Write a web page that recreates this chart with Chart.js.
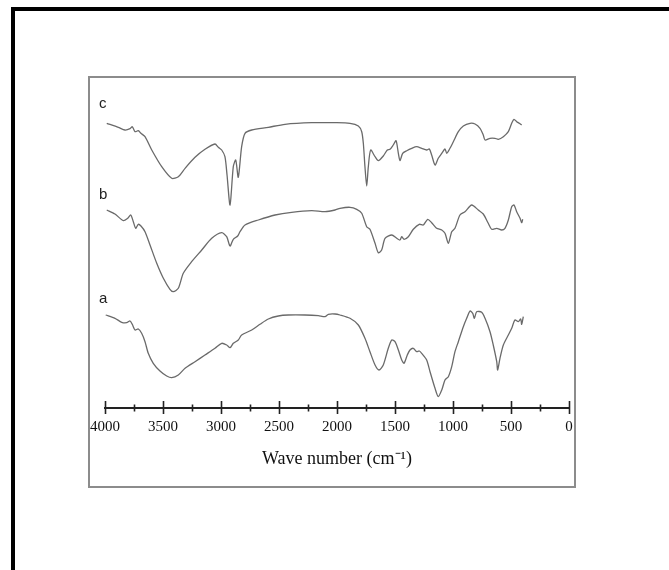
<!DOCTYPE html>
<html>
<head>
<meta charset="utf-8">
<script src="https://cdn.jsdelivr.net/npm/chart.js@4.4.1/dist/chart.umd.min.js"></script>
<style>
  html, body { margin: 0; padding: 0; background: #fff; }
  body { width: 669px; height: 570px; position: relative; overflow: hidden; }
  #frame { position: absolute; left: 11px; top: 7px; width: 700px; height: 600px;
           border-left: 4px solid #000; border-top: 4px solid #000; }
  #box { position: absolute; left: 88px; top: 76px; width: 484px; height: 408px;
         border: 2px solid #8c8c8c; }
  #wrap { position: absolute; left: 0; top: 0; width: 669px; height: 570px; }
</style>
</head>
<body>
<div id="frame"></div>
<div id="box"></div>
<div id="wrap"><canvas id="chart" width="669" height="570"></canvas></div>
<script>
// Wavenumbers (cm^-1) and relative transmittance (offset, a.u.)
const waveC = [3985,3885,3828,3784,3765,3741,3713,3690,3655,3597,3511,3425,3368,3310,3224,3138,3052,3023,2994,2966,2948,2922,2894,2873,2851,2822,2793,2735,2592,2448,2218,2017,1888,1816,1787,1773,1759,1744,1730,1710,1672,1644,1601,1566,1543,1515,1491,1471,1457,1434,1399,1356,1313,1270,1227,1204,1184,1155,1127,1097,1069,1054,1026,997,954,911,853,810,767,739,724,681,638,609,566,523,494,474,451,428,408];
const transC = [284.7,280.7,278,279.3,281.3,276.3,277.3,274.7,271.3,258,241.3,229.7,231.3,239.7,250.7,258.7,264,260.7,258,251.3,233,203,241.3,248,230.7,261.3,274.7,278,280.7,283.7,285.3,285.3,284.7,282,276.3,264.7,241.3,222,241.3,258,251.3,247.3,252,258,258.7,263,267.3,254.7,247.3,254.7,257.3,259.7,261.3,259.7,258,259,253,243,249.7,254.7,259,254.7,259.7,266.3,276.3,282,284.7,284,279.7,273,268,269.7,269.7,268.7,271.3,276.3,284.7,288.7,286.3,284.7,283];

const waveB = [3985,3914,3842,3804,3778,3756,3735,3713,3690,3655,3612,3554,3497,3440,3411,3368,3325,3253,3166,3080,2994,2951,2922,2894,2856,2836,2793,2678,2534,2391,2218,2103,2017,1974,1888,1830,1787,1744,1716,1672,1644,1615,1586,1528,1485,1457,1442,1422,1385,1342,1291,1256,1218,1184,1141,1097,1069,1040,1011,983,940,897,839,782,739,696,667,623,580,552,523,494,474,451,422,408,399];
const transB = [198,194,187.3,189.7,193,186.3,179.7,183.7,182,176.3,163,144.7,129.7,118.7,116.3,119.7,134.7,146.3,158,169.7,175.3,171.3,162,168.7,172,176.3,183,188,193,195.7,197.3,196.3,198,199.7,200.7,198.7,194.7,181.3,178.7,164.7,155.3,158,169.7,173,169.7,168,171.3,168.7,171.3,178.7,183.7,183,188.7,185.3,179.7,178,174.7,164.7,176.3,179.7,193,196.3,203,198,194,184.7,178.7,179.7,178,179.7,188,201.3,203,196.3,189.7,185.3,188.7];

const waveA = [3994,3914,3856,3813,3784,3765,3741,3713,3684,3655,3627,3584,3526,3468,3425,3368,3310,3224,3138,3052,2994,2951,2922,2894,2851,2822,2735,2664,2592,2506,2420,2276,2161,2103,2075,2017,1974,1888,1816,1759,1716,1672,1638,1601,1558,1528,1500,1471,1442,1422,1394,1371,1342,1313,1291,1270,1227,1198,1155,1127,1097,1069,1040,1011,983,954,911,882,853,830,816,796,753,724,681,653,623,615,595,566,523,494,466,437,416,408,394];
const transA = [93,89.7,85.7,85.3,87,83.7,78,79,74.7,66.3,54.7,44.7,37,32,30.3,33,39.7,46.3,53,59.7,64.7,63,60.3,64.7,68,73,78,83.7,89,92,93,93,92.3,91.3,93.7,94,93,89.7,83,69.7,56.3,43,38,43,59.7,68,66.3,58,48,44.7,53,58,59.7,56.3,57,54.7,48,36.3,19.7,11.3,18,28,31.3,41.3,56.3,66.3,81.3,89.7,97,94.7,89.7,96.3,95.7,89.7,76.3,63,46.3,38,49.7,63,73,79.7,88,86.3,89,83.7,91.3];

const curveNames = ['c', 'b', 'a'];
const xTickMin = 0, xTickMax = 4000, xTickStep = 250, xLabelStep = 500;

function pts(w, t) { return w.map((v, i) => ({ x: v, y: t[i] })); }

const lineStyle = { borderColor: '#6a6a6a', borderWidth: 1.3, pointRadius: 0, tension: 0.25, fill: false };

const crossTicks = {
  id: 'crossTicks',
  afterDraw(chart) {
    const xs = chart.scales.x, ys = chart.scales.y, ctx = chart.ctx;
    const y0 = xs.top;
    ctx.save();
    ctx.strokeStyle = '#222';
    ctx.lineWidth = 1.6;
    xs.ticks.forEach(t => {
      const px = Math.round(xs.getPixelForValue(t.value)) + 0.5;
      const major = t.value % xLabelStep === 0;
      const up = major ? 7 : 3.5, dn = major ? 6 : 3.5;
      ctx.beginPath();
      ctx.moveTo(px, y0 - up);
      ctx.lineTo(px, y0 + dn);
      ctx.stroke();
    });
    // curve labels
    ctx.fillStyle = '#222';
    ctx.font = '15px "Liberation Sans", Arial, sans-serif';
    ctx.textAlign = 'left';
    ctx.textBaseline = 'alphabetic';
    const labelPos = [300, 209, 105];
    curveNames.forEach((n, i) => {
      ctx.fillText(n, xs.getPixelForValue(4052), ys.getPixelForValue(labelPos[i]));
    });
    ctx.restore();
  }
};

new Chart(document.getElementById('chart'), {
  type: 'line',
  data: {
    datasets: [
      { label: 'c', data: pts(waveC, transC), ...lineStyle },
      { label: 'b', data: pts(waveB, transB), ...lineStyle },
      { label: 'a', data: pts(waveA, transA), ...lineStyle }
    ]
  },
  options: {
    responsive: false,
    animation: false,
    events: [],
    layout: { padding: { left: 105, right: 100, top: 76, bottom: 92 } },
    plugins: { legend: { display: false }, tooltip: { enabled: false } },
    scales: {
      x: {
        type: 'linear',
        reverse: true,
        min: xTickMin,
        max: xTickMax,
        afterFit: s => { s.height = 70; },
        grid: { display: false, drawTicks: false },
        border: { display: true, color: '#222', width: 2 },
        ticks: {
          stepSize: xTickStep,
          autoSkip: false,
          maxRotation: 0,
          padding: 10,
          color: '#111',
          font: { family: '"Liberation Serif", "Times New Roman", serif', size: 15 },
          callback: v => (v % xLabelStep === 0 ? String(v) : '')
        },
        title: {
          display: true,
          text: 'Wave number (cm\u207B\u00B9)',
          color: '#111',
          font: { family: '"Liberation Serif", "Times New Roman", serif', size: 18 },
          padding: { top: 0, bottom: 8 }
        }
      },
      y: { display: false, min: 0, max: 332 }
    }
  },
  plugins: [crossTicks]
});
</script>
</body>
</html>
